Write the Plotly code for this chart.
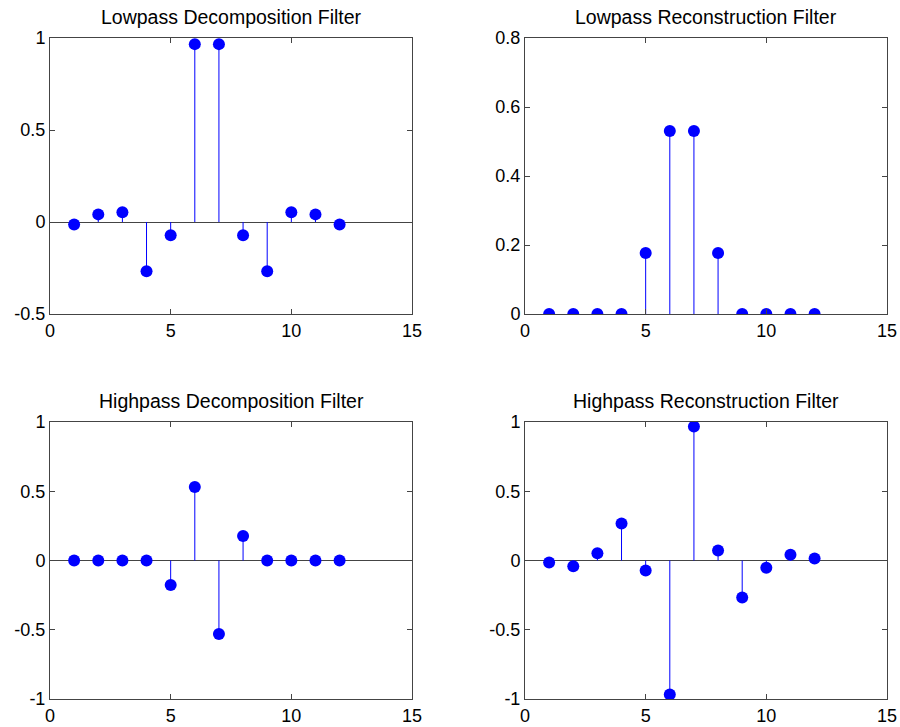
import plotly.graph_objects as go

# Data (bior3.5 wavelet filters)
n = list(range(1, 13))
lo_d = [-0.0138, 0.0414, 0.0525, -0.2679, -0.0718, 0.9667, 0.9667, -0.0718, -0.2679, 0.0525, 0.0414, -0.0138]
lo_r = [0, 0, 0, 0, 0.1768, 0.5303, 0.5303, 0.1768, 0, 0, 0, 0]
hi_d = [0, 0, 0, 0, -0.1768, 0.5303, -0.5303, 0.1768, 0, 0, 0, 0]
hi_r = [-0.0138, -0.0414, 0.0525, 0.2679, -0.0718, -0.9667, 0.9667, 0.0718, -0.2679, -0.0525, 0.0414, 0.0138]

titles = ["Lowpass Decomposition Filter", "Lowpass Reconstruction Filter",
          "Highpass Decomposition Filter", "Highpass Reconstruction Filter"]
series = [lo_d, lo_r, hi_d, hi_r]

x_ticks = [0, 5, 10, 15]
x_ticktext = ["0", "5", "10", "15"]
y_ticks = [
    ([-0.5, 0, 0.5, 1], ["-0.5", "0", "0.5", "1"], [-0.5, 1]),
    ([0, 0.2, 0.4, 0.6, 0.8], ["0", "0.2", "0.4", "0.6", "0.8"], [0, 0.8]),
    ([-1, -0.5, 0, 0.5, 1], ["-1", "-0.5", "0", "0.5", "1"], [-1, 1]),
    ([-1, -0.5, 0, 0.5, 1], ["-1", "-0.5", "0", "0.5", "1"], [-1, 1]),
]

W, H = 900, 727
xdom = [[50 / W, 412 / W], [525 / W, 887 / W]]
ydom = [[1 - 314 / H, 1 - 38 / H], [1 - 699 / H, 1 - 422 / H]]
title_y = [17, 401]

BLUE = "#0000ff"
AX = "#444444"
FONT = "Liberation Sans, Arial, sans-serif"

fig = go.Figure()
layout = dict(template="none", width=W, height=H, margin=dict(l=0, r=0, t=0, b=0, pad=0),
              paper_bgcolor="white", plot_bgcolor="white", showlegend=False,
              font=dict(family=FONT, size=18, color="black"))
annotations = []

for k in range(4):
    r, c = divmod(k, 2)
    xa = "x" if k == 0 else f"x{k+1}"
    ya = "y" if k == 0 else f"y{k+1}"
    vals = series[k]
    sx, sy = [], []
    for xi, v in zip(n, vals):
        sx += [xi, xi, None]
        sy += [0, v, None]
    fig.add_trace(go.Scatter(x=sx, y=sy, mode="lines", line=dict(color=BLUE, width=1),
                             xaxis=xa, yaxis=ya, hoverinfo="skip"))
    fig.add_trace(go.Scatter(x=n, y=vals, mode="markers",
                             marker=dict(color=BLUE, size=12, line=dict(width=0)),
                             xaxis=xa, yaxis=ya))
    yt, ytt, yr = y_ticks[k]
    axkey = "xaxis" if k == 0 else f"xaxis{k+1}"
    aykey = "yaxis" if k == 0 else f"yaxis{k+1}"
    layout[axkey] = dict(domain=xdom[c], range=[0, 15], anchor=ya, automargin=False,
                         tickmode="array", tickvals=x_ticks, ticktext=x_ticktext,
                         ticks="inside", ticklen=5, tickcolor=AX, mirror="ticks",
                         showline=True, linecolor=AX, linewidth=1,
                         showgrid=False, zeroline=False,
                         tickfont=dict(size=18, family=FONT, color="black"))
    layout[aykey] = dict(domain=ydom[r], range=yr, anchor=xa, automargin=False,
                         tickmode="array", tickvals=yt, ticktext=ytt,
                         ticks="inside", ticklen=5, tickcolor=AX, mirror="ticks",
                         showline=True, linecolor=AX, linewidth=1,
                         showgrid=False, zeroline=True, zerolinecolor=AX, zerolinewidth=1,
                         tickfont=dict(size=18, family=FONT, color="black"))
    annotations.append(dict(text=titles[k], x=(xdom[c][0] + xdom[c][1]) / 2,
                            y=1 - title_y[r] / H, xref="paper", yref="paper",
                            xanchor="center", yanchor="middle", showarrow=False,
                            font=dict(size=19.5, family=FONT, color="black")))

layout["annotations"] = annotations
fig.update_layout(**layout)
fig.write_html("out.html", config={"displayModeBar": False},
               post_script="document.body.style.margin='0';document.body.style.overflow='hidden';")
